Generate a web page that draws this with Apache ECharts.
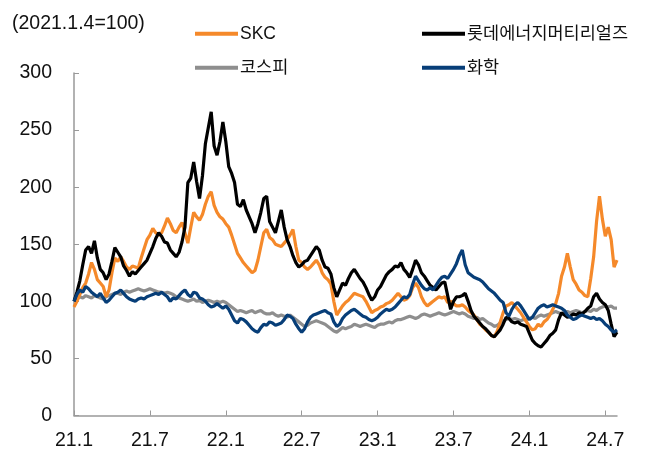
<!DOCTYPE html>
<html><head><meta charset="utf-8">
<script src="https://cdn.jsdelivr.net/npm/echarts@6/dist/echarts.min.js"></script>
<style>html,body{margin:0;padding:0;background:#fff}#c{width:652px;height:450px}</style>
</head><body><div id="c"></div>
<script>
var startDate = '2021-01-04';
var yTicks = [0, 50, 100, 150, 200, 250, 300];
var seriesNames = ['SKC', '롯데에너지머티리얼즈', '코스피', '화학'];

var skc = [95,100,106,112,116,124,134,128,119,116,113,104,110,125,138,135,139,135,130,128,
131,130,129,138,146,154,158,164,160,158,160,166,173,168,162,160,165,169,160,151,
165,178,174,171,176,185,192,196,184,178,174,172,168,165,158,150,142,138,134,131,
128,125,127,136,148,160,163,156,154,150,149,148,151,154,158,163,148,136,134,130,
128,130,133,136,132,125,121,119,115,100,88,92,96,99,101,104,107,106,105,104,
100,95,90,92,93,95,96,98,99,101,104,107,104,101,102,105,112,116,112,104,
99,96,98,100,102,104,103,104,99,100,98,96,96,97,95,92,90,88,84,80,
78,75,73,70,69,74,82,90,96,97,99,96,93,90,86,82,78,75,76,80,
78,82,84,88,93,98,107,122,130,142,130,119,115,110,108,105,104,120,139,170,
192,172,157,165,154,130,136];

var lotte = [100,108,118,132,145,148,142,153,138,128,125,119,124,135,147,143,139,131,127,122,
126,124,127,130,133,136,142,148,155,160,157,152,151,145,142,139,143,152,165,204,
208,222,205,190,210,238,252,266,236,228,240,257,240,218,212,204,185,183,189,180,
174,168,160,168,178,190,192,170,165,160,170,180,165,154,148,140,134,130,132,135,
136,140,144,148,145,136,130,129,124,112,104,110,116,114,120,125,128,124,120,117,
112,106,101,104,110,113,118,123,126,128,131,130,134,128,125,121,128,136,132,125,
122,118,114,112,110,113,116,117,105,93,100,104,104,105,107,100,92,87,84,81,
78,76,73,70,69,72,75,80,86,85,82,81,82,80,79,78,72,66,63,61,
60,63,66,70,72,75,84,90,88,86,87,89,88,90,89,91,94,96,104,107,
102,99,97,92,80,69,73];

var kospi = [100,102,104,103,105,104,103,105,104,103,102,104,105,106,107,107,106,108,109,108,
109,110,111,110,109,110,111,110,109,108,108,107,108,107,106,104,103,102,101,100,
101,102,100,101,99,100,101,100,99,100,99,100,99,97,95,93,91,92,91,90,
91,92,90,91,92,90,89,89,90,88,87,88,87,86,88,86,84,82,80,78,
79,81,82,83,82,81,80,78,76,74,73,75,77,76,77,78,80,79,78,79,
80,79,78,77,79,80,80,81,82,81,83,84,84,85,86,87,86,85,86,88,
89,88,87,88,89,90,89,88,89,90,91,90,89,90,89,87,86,85,86,84,
85,83,81,80,78,79,81,83,84,85,84,85,84,83,84,84,85,86,85,87,
88,87,88,89,90,91,90,89,90,91,90,91,92,91,90,91,92,91,93,92,
94,95,96,95,96,94,94];

var chem = [100,106,110,108,113,111,108,106,104,107,103,99,101,104,107,108,110,107,104,102,
101,100,102,103,102,104,105,106,107,106,108,106,104,100,103,102,105,108,110,106,
104,108,107,103,102,100,97,95,96,98,96,94,96,93,88,83,81,85,84,82,
79,76,74,73,77,80,79,82,81,79,80,81,84,88,87,85,80,76,73,76,
82,86,88,89,90,91,92,90,89,82,78,80,85,88,90,92,93,91,89,87,
86,84,83,84,86,89,91,93,92,93,95,98,101,104,103,106,115,122,118,114,
111,110,112,110,114,118,121,122,120,124,128,133,140,145,132,125,123,121,120,119,
117,114,111,109,107,104,101,99,90,87,93,97,99,96,92,88,84,86,90,94,
96,97,95,96,97,96,95,94,92,88,86,84,85,87,88,87,86,85,86,84,
85,83,80,78,75,73,75];

// weekly category dates
var dates = [];
(function(){
  var d = new Date(startDate + 'T00:00:00Z');
  for (var i = 0; i < skc.length; i++) {
    dates.push(d.toISOString().slice(0,10));
    d = new Date(d.getTime() + 7*86400000);
  }
})();
function isTick(v){
  var m = +v.slice(5,7), day = +v.slice(8,10);
  return (m === 1 || m === 7) && day <= 7;
}
function fmt(v){
  return v.slice(2,4) + '.' + (+v.slice(5,7));
}

var FONT = 'Liberation Sans, Arial, "Noto Sans CJK KR", sans-serif';
var colors = {'SKC':'#F5892A','롯데에너지머티리얼즈':'#000000','코스피':'#8E8E8E','화학':'#073E78'};
var chart = echarts.init(document.getElementById('c'), null, {renderer:'canvas'});
function mk(name, data, z){
  return {name:name, type:'line', data:data, showSymbol:false, symbol:'none', z:z,
    lineStyle:{width:3.2, color:colors[name]}, itemStyle:{color:colors[name]}, animation:false};
}
function lg(name, left, top){
  return {data:[name], left:left, top:top, icon:'rect', itemWidth:43, itemHeight:4, itemGap:4, padding:0,
    textStyle:{fontSize:17.5, color:'#111', fontFamily:FONT, padding:[0,0,0,-3]}};
}
chart.setOption({
  animation:false,
  textStyle:{fontFamily:FONT},
  graphic:[{type:'text', left:12, top:14, style:{text:'(2021.1.4=100)', fontSize:19.5, fill:'#111', fontFamily:FONT}}],
  legend:[lg('SKC',195,25), lg('롯데에너지머티리얼즈',422,25), lg('코스피',195,59), lg('화학',422,59)],
  grid:{left:74, right:35, top:73, bottom:34, containLabel:false},
  xAxis:{type:'category', data:dates, boundaryGap:false,
    axisLine:{lineStyle:{color:'#999', width:1.5}},
    axisTick:{inside:true, length:5, interval:function(i,v){return isTick(v);}, lineStyle:{color:'#999'}},
    axisLabel:{interval:function(i,v){return isTick(v);}, formatter:fmt, fontSize:19.5, color:'#111', margin:15},
    splitLine:{show:false}},
  yAxis:{type:'value', min:yTicks[0], max:yTicks[yTicks.length-1], interval:50,
    axisLine:{show:true, lineStyle:{color:'#999', width:1.5}},
    axisTick:{show:true, inside:true, length:5, lineStyle:{color:'#999'}},
    axisLabel:{fontSize:19.5, color:'#111', margin:22},
    splitLine:{show:false}},
  series:[mk('코스피',kospi,1), mk('SKC',skc,2), mk('롯데에너지머티리얼즈',lotte,3), mk('화학',chem,4)]
});
</script></body></html>
